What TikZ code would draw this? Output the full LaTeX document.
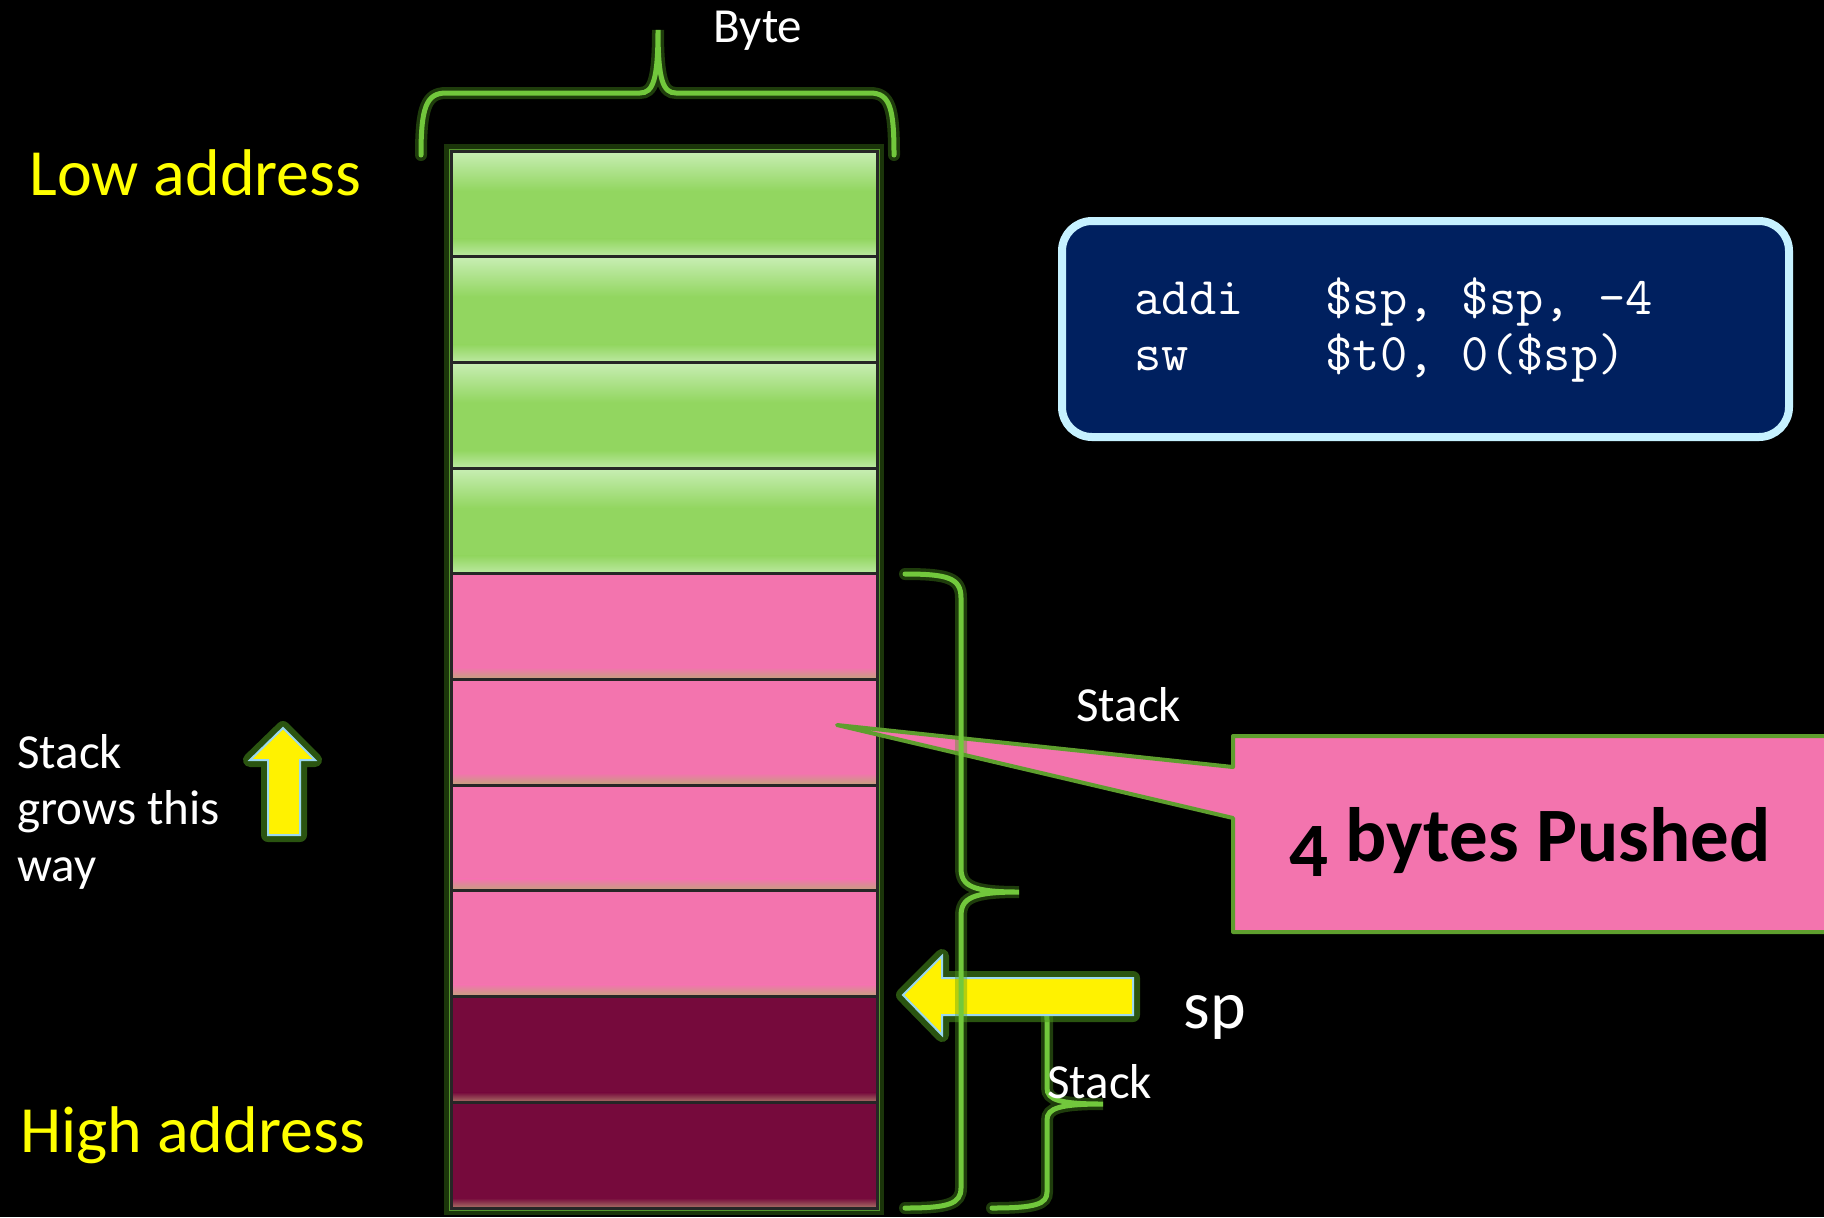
\documentclass[tikz,border=0pt]{standalone}
\usepackage{fontspec}
\setmainfont{Carlito}
\definecolor{cellgreen}{HTML}{92D660}
\definecolor{cellgreenlt}{HTML}{C8EEB4}
\definecolor{cellpink}{HTML}{F374AE}
\definecolor{cellmaroon}{HTML}{760A3C}
\definecolor{celltan}{HTML}{C2A47A}
\definecolor{bracegreen}{HTML}{72C83C}
\definecolor{glowgreen}{HTML}{4E9A1E}
\definecolor{calloutgreen}{HTML}{5E9E2E}
\definecolor{codeblue}{HTML}{00205F}
\definecolor{codeedge}{HTML}{C6F1FF}
\definecolor{addryellow}{HTML}{FFFF00}
\definecolor{arrowedge}{HTML}{9BD8F0}
\tikzset{
  bracestroke/.style={draw=bracegreen, line width=2.5pt, line cap=round,
    preaction={draw=glowgreen, line width=6pt, opacity=0.4, line cap=round}},
  cellbox/.style={draw=black!85, line width=1.5pt},
  yarrow/.style={fill=yellow, draw=arrowedge, line width=1pt,
    preaction={draw=glowgreen, line width=7pt, opacity=0.55, line join=round}},
  whitelbl/.style={text=white, inner sep=0pt, anchor=base west,
    font=\fontsize{24.5}{29}\selectfont},
  addrlbl/.style={text=addryellow, inner sep=0pt, anchor=base west,
    font=\fontsize{33}{40}\selectfont},
  codeline/.style={text=white, inner sep=0pt, anchor=base west,
    font=\ttfamily\fontsize{26.5}{30}\selectfont},
}
\begin{document}
\begin{tikzpicture}[x=0.5pt, y=-0.5pt]
      \def\cl{451}
      \def\cr{877}
      \def\ct{151}
      \def\ch{105.7}
      \fill[black] (0,0) rectangle (1824,1217);
      \useasboundingbox (0,0) rectangle (1824,1217);
      % column outline
      \draw[draw=bracegreen!75!black, line width=2.5pt,
            preaction={draw=glowgreen, line width=7pt, opacity=0.35}]
            (\cl,\ct) rectangle (\cr,\ct+10*\ch);
      % green rows
      \foreach \i in {0,...,3} {
        \fill[cellgreen] (\cl,\ct+\i*\ch) rectangle (\cr,\ct+\i*\ch+\ch);
        \shade[top color=cellgreenlt, bottom color=cellgreen]
              (\cl,\ct+\i*\ch) rectangle (\cr,\ct+\i*\ch+40);
        \shade[top color=cellgreen, bottom color=cellgreenlt!80!cellgreen]
              (\cl,\ct+\i*\ch+\ch-18) rectangle (\cr,\ct+\i*\ch+\ch);
        \draw[cellbox] (\cl,\ct+\i*\ch) rectangle (\cr,\ct+\i*\ch+\ch);
      }
      % pink rows
      \foreach \i in {4,...,7} {
        \fill[cellpink] (\cl,\ct+\i*\ch) rectangle (\cr,\ct+\i*\ch+\ch);
        \shade[top color=cellpink, bottom color=celltan]
              (\cl,\ct+\i*\ch+\ch-12) rectangle (\cr,\ct+\i*\ch+\ch);
        \draw[cellbox] (\cl,\ct+\i*\ch) rectangle (\cr,\ct+\i*\ch+\ch);
      }
      % maroon rows
      \foreach \i in {8,9} {
        \fill[cellmaroon] (\cl,\ct+\i*\ch) rectangle (\cr,\ct+\i*\ch+\ch);
        \shade[top color=cellmaroon, bottom color=celltan!70!cellmaroon]
              (\cl,\ct+\i*\ch+\ch-10) rectangle (\cr,\ct+\i*\ch+\ch);
        \draw[cellbox] (\cl,\ct+\i*\ch) rectangle (\cr,\ct+\i*\ch+\ch);
      }
      % Byte brace
      \draw[bracestroke] (421,155) .. controls (421,108) and (426,93) .. (446,93)
            -- (640,93) .. controls (653,93) and (658,80) .. (658,30)
            .. controls (658,80) and (663,93) .. (676,93)
            -- (870,93) .. controls (890,93) and (894,108) .. (894,155);
      \node[whitelbl] (byte) at (713,42) {Byte};
      % callout
      \filldraw[fill=cellpink, draw=calloutgreen, line width=2pt, line join=round]
            (1233,736) -- (1830,736) -- (1830,932) -- (1233,932) -- (1233,818)
            -- (837,725) -- (1233,767) -- cycle;
      \node[inner sep=0pt, anchor=base west, font=\bfseries\fontsize{38.5}{44}\selectfont]
            (pushed) at (1289,861) {\raisebox{-0.2em}{4} bytes Pushed};
      % small stack brace
      \draw[bracestroke] (992,1000) .. controls (1038,1000) and (1047,1005) .. (1047,1020)
            -- (1047,1088) .. controls (1047,1100) and (1060,1104) .. (1103,1104)
            .. controls (1060,1104) and (1047,1108) .. (1047,1120)
            -- (1047,1192) .. controls (1047,1204) and (1036,1208) .. (992,1208);
      % sp arrow
      \draw[yarrow] (903,995) -- (942,956) -- (942,978) -- (1133,978) -- (1133,1015)
            -- (942,1015) -- (942,1035) -- cycle;
      % stack brace
      \draw[bracestroke] (905,574) .. controls (948,574) and (961,578) .. (961,598)
            -- (961,868) .. controls (961,886) and (972,892) .. (1019,892)
            .. controls (972,892) and (961,898) .. (961,916)
            -- (961,1188) .. controls (961,1204) and (948,1208) .. (905,1208);
      \node[whitelbl] (stackbig) at (1076,721) {Stack};
      \node[whitelbl] (stacksmall) at (1047,1098) {Stack};
      \node[whitelbl, font=\fontsize{34}{40}\selectfont] (sp) at (1183,1028) {sp};
      % grows arrow
      \draw[yarrow] (283,728) -- (315,760) -- (300,760) -- (300,835) -- (268,835)
            -- (268,760) -- (250,760) -- cycle;
      \node[whitelbl] (grows1) at (17,768) {Stack};
      \node[whitelbl] (grows2) at (17,824) {grows this};
      \node[whitelbl] (grows3) at (17,881) {way};
      % addresses
      \node[addrlbl] (lowaddr) at (29,195) {Low address};
      \node[addrlbl] (highaddr) at (20,1152) {High address};
      % code box
      \node[draw=codeedge, fill=codeblue, line width=4pt, rounded corners=15pt,
            minimum width=363.5pt, minimum height=108pt, inner sep=0pt]
            (codebox) at (1425.5,329) {};
      \node[codeline] (code1) at (1134,314) {addi~~~\$sp, \$sp, -4};
      \node[codeline] (code2) at (1134,370) {sw~~~~~\$t0, 0(\$sp)};
\end{tikzpicture}
\end{document}
